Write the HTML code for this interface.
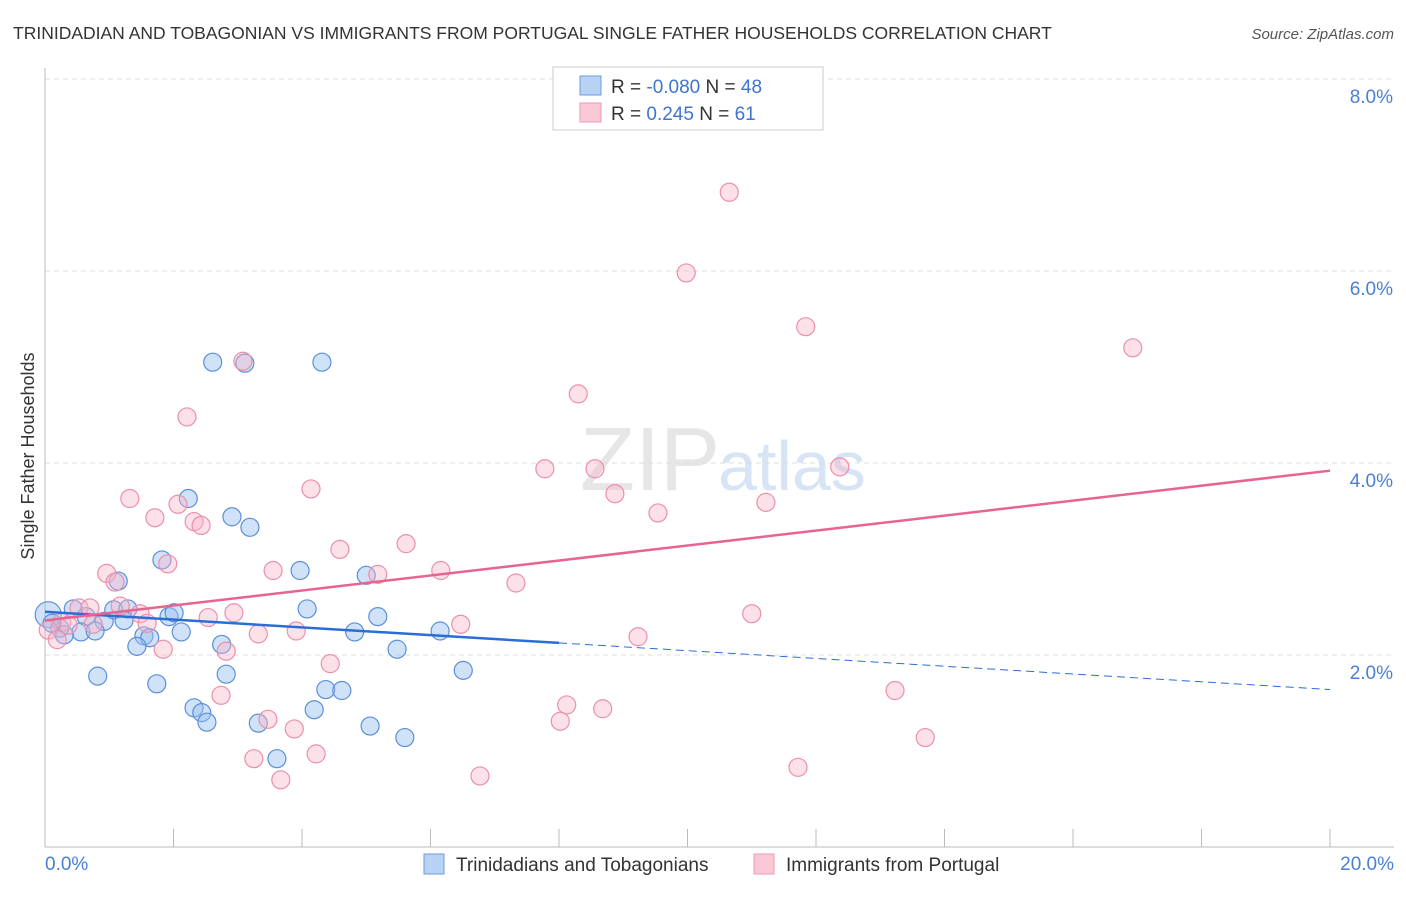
<!DOCTYPE html>
<html><head><meta charset="utf-8"><style>
body{margin:0;background:#fff;font-family:"Liberation Sans",sans-serif;}
svg text{font-family:"Liberation Sans",sans-serif;}
</style></head><body>
<svg id="chart" width="1406" height="892" xmlns="http://www.w3.org/2000/svg">
<text x="13" y="39" font-size="17.5" fill="#333">TRINIDADIAN AND TOBAGONIAN VS IMMIGRANTS FROM PORTUGAL SINGLE FATHER HOUSEHOLDS CORRELATION CHART</text>
<text x="1394" y="39" font-size="15" fill="#555" text-anchor="end" font-style="italic">Source: ZipAtlas.com</text>
<text transform="translate(34,456) rotate(-90)" font-size="18" fill="#333" text-anchor="middle">Single Father Households</text>
<text x="720" y="490" font-size="90" fill="#e6e6e6" text-anchor="end" font-family="Liberation Serif">ZIP</text>
<text x="718" y="490" font-size="70" fill="#d6e4f5">atlas</text>
<g id="grid"></g><g id="axes"></g><g id="pts"></g><g id="lines"></g>
<g>
<rect x="553" y="67" width="270" height="63" fill="#fff" stroke="#ccc"/>
<rect x="580" y="76" width="21" height="19" fill="#b8d2f4" stroke="#6b9be0"/>
<rect x="580" y="103" width="21" height="19" fill="#fbc8d6" stroke="#ec9ab2"/>
<text x="611" y="93" font-size="19" fill="#333">R = <tspan fill="#3f74d0">-0.080</tspan>   N = <tspan fill="#3f74d0">48</tspan></text>
<text x="611" y="120" font-size="19" fill="#333">R =  <tspan fill="#3f74d0"> 0.245</tspan>   N =  <tspan fill="#3f74d0">61</tspan></text>
</g>
<g>
<rect x="424" y="854" width="20" height="20" fill="#b8d2f4" stroke="#6b9be0"/>
<text x="456" y="871" font-size="19" fill="#333">Trinidadians and Tobagonians</text>
<rect x="754" y="854" width="20" height="20" fill="#fbc8d6" stroke="#ec9ab2"/>
<text x="786" y="871" font-size="19" fill="#333">Immigrants from Portugal</text>
</g>
</svg>
<script>
const blueX=[2.61,3.11,4.31,2.23,2.91,3.19,1.82,1.14,3.97,5.00,0.05,0.44,0.64,0.92,1.07,1.29,1.23,1.93,2.01,4.08,5.18,0.56,0.78,1.54,1.63,1.43,2.12,2.75,4.82,6.15,5.48,0.82,1.74,2.82,6.51,4.37,4.62,2.32,2.44,2.52,4.19,3.32,5.06,5.60,3.61,0.23,0.11,0.30];
const blueY=[5.05,5.04,5.05,3.63,3.44,3.33,2.99,2.77,2.88,2.83,2.42,2.48,2.40,2.35,2.47,2.48,2.36,2.40,2.44,2.48,2.40,2.24,2.25,2.20,2.18,2.09,2.24,2.11,2.24,2.25,2.06,1.78,1.70,1.80,1.84,1.64,1.63,1.45,1.40,1.30,1.43,1.29,1.26,1.14,0.92,2.28,2.33,2.21];
const pinkX=[10.65,9.98,11.84,16.93,8.30,3.08,2.21,7.78,8.56,12.37,8.87,4.14,1.32,2.07,1.71,2.32,2.43,9.54,11.22,4.59,5.62,1.91,0.96,1.09,3.55,5.18,6.16,7.33,0.53,0.70,1.17,1.48,1.59,2.54,2.94,0.75,0.26,0.05,0.19,0.36,3.91,3.32,6.47,9.23,11.00,2.82,1.84,4.44,2.74,13.23,8.12,8.68,8.02,3.47,3.88,4.22,13.70,3.25,3.67,6.77,11.72];
const pinkY=[6.82,5.98,5.42,5.20,4.72,5.06,4.48,3.94,3.94,3.96,3.68,3.73,3.63,3.57,3.43,3.39,3.35,3.48,3.59,3.10,3.16,2.95,2.85,2.76,2.88,2.84,2.88,2.75,2.49,2.49,2.51,2.43,2.33,2.39,2.44,2.32,2.34,2.26,2.16,2.31,2.25,2.22,2.32,2.19,2.43,2.04,2.06,1.91,1.58,1.63,1.48,1.44,1.31,1.33,1.23,0.97,1.14,0.92,0.70,0.74,0.83];
const blueTrend=[2.45,1.64];   // value at x=0, x=20
const pinkTrend=[2.36,3.92];
const yTicks=[2,4,6,8];
const yTickLabels=["2.0%","4.0%","6.0%","8.0%"];
const xTicks=[0,2,4,6,8,10,12,14,16,18,20];
const xTickLabels=["0.0%","20.0%"];
const NS="http://www.w3.org/2000/svg";
const sx=v=>45+v*64.25, sy=v=>847-v*96;
function mk(tag,attrs,parent){const e=document.createElementNS(NS,tag);for(const k in attrs)e.setAttribute(k,attrs[k]);document.getElementById(parent).appendChild(e);return e;}
yTicks.forEach((t,i)=>{
 const l=mk('line',{x1:45,x2:1394,y1:sy(t),y2:sy(t),stroke:'#ddd','stroke-dasharray':'5,4'},'grid');
 
 
 const tx=mk('text',{x:1393,y:sy(t)+24,'font-size':19,fill:'#4a7fd4','text-anchor':'end'},'grid');
 tx.textContent=yTickLabels[i];
 
 
});
const ax=mk('line',{x1:45,x2:1394,y1:847,y2:847,stroke:'#bbb'},'axes');


const ay=mk('line',{x1:45,x2:45,y1:68,y2:847,stroke:'#bbb'},'axes');


xTicks.forEach(t=>{
 const l=mk('line',{x1:sx(t),x2:sx(t),y1:829,y2:847,stroke:'#bbb'},'axes');
 
 
});
const xl0=mk('text',{x:45,y:870,'font-size':19,fill:'#4a7fd4'},'axes');xl0.textContent=xTickLabels[0];


const xl1=mk('text',{x:1394,y:870,'font-size':19,fill:'#4a7fd4','text-anchor':'end'},'axes');xl1.textContent=xTickLabels[1];


blueX.forEach((v,i)=>{
 const c=mk('circle',{cx:sx(v),cy:sy(blueY[i]),r:i===10?13:9,fill:'rgba(150,190,240,0.45)',stroke:'#5b8fd9','stroke-width':1.2},'pts');
 
 
});
pinkX.forEach((v,i)=>{
 const c=mk('circle',{cx:sx(v),cy:sy(pinkY[i]),r:9,fill:'rgba(248,180,200,0.4)',stroke:'#ec8fab','stroke-width':1.2},'pts');
 
 
});
const bAt=x=>blueTrend[0]+(blueTrend[1]-blueTrend[0])*x/20;
const pAt=x=>pinkTrend[0]+(pinkTrend[1]-pinkTrend[0])*x/20;
const bl=mk('line',{x1:sx(0),y1:sy(bAt(0)),x2:sx(8),y2:sy(bAt(8)),stroke:'#2a6dd6','stroke-width':2.5},'lines');


const bd=mk('line',{x1:sx(8),y1:sy(bAt(8)),x2:sx(20),y2:sy(bAt(20)),stroke:'#2a6dd6','stroke-width':1,'stroke-dasharray':'8,5'},'lines');


const pl=mk('line',{x1:sx(0),y1:sy(pAt(0)),x2:sx(20),y2:sy(pAt(20)),stroke:'#e8648e','stroke-width':2.5},'lines');


</script>
</body></html>
